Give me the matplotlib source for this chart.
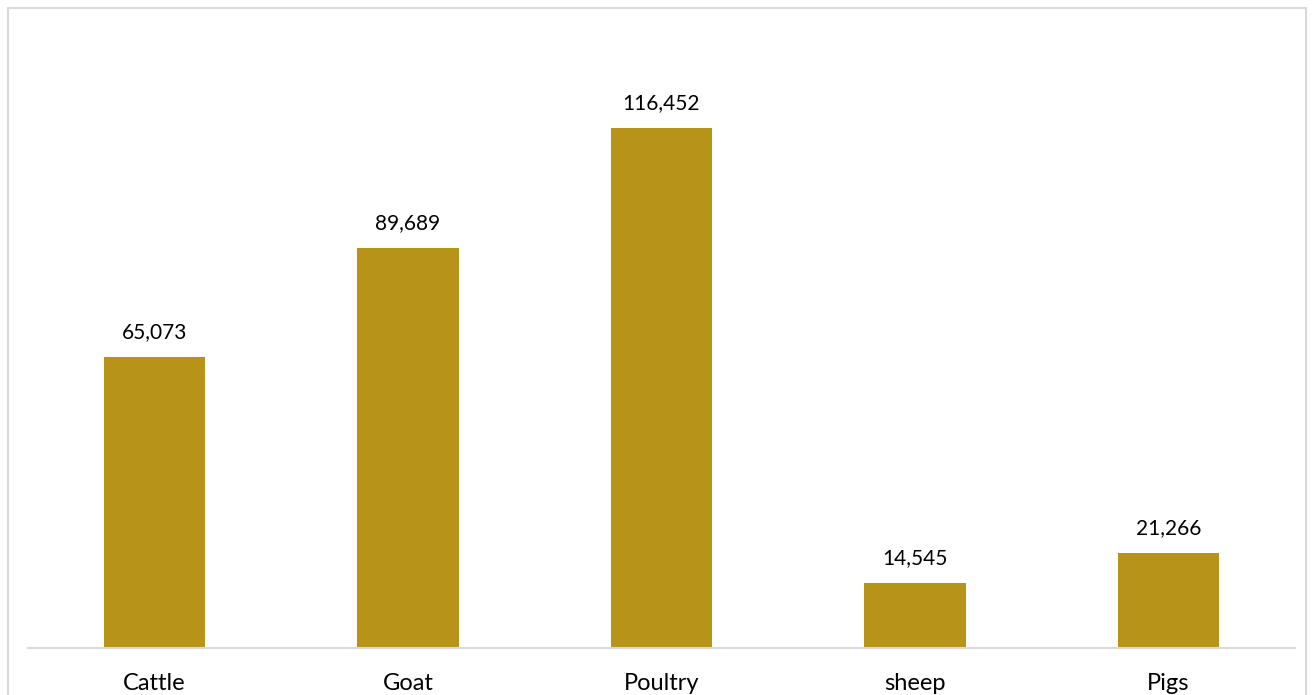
import matplotlib.pyplot as plt
from matplotlib.patches import Rectangle

categories = ['Cattle', 'Goat', 'Poultry', 'sheep', 'Pigs']
values = [65073, 89689, 116452, 14545, 21266]

W, H = 1312, 695
fig = plt.figure(figsize=(W / 100, H / 100), dpi=100)
plt.rcParams['font.family'] = ['Lato', 'DejaVu Sans']

# рамка вокруг области графика
fig.patches.append(Rectangle((8 / W, -0.05), 1298 / W, 1 - 8 / H + 0.05,
                             transform=fig.transFigure, fill=False,
                             edgecolor='#D9D9D9', linewidth=1.5))

ax = fig.add_axes([27.75 / W, 47 / H, 1267.5 / W, 625 / H])
x = range(len(categories))
bars = ax.bar(x, values, width=0.4, color='#B79417')
ax.set_xlim(-0.5, len(categories) - 0.5)
ax.set_ylim(0, 140000)

for b, v in zip(bars, values):
    ax.annotate(f'{v:,}', (b.get_x() + b.get_width() / 2, v),
                xytext=(0, 18), textcoords='offset points',
                ha='center', va='center', fontsize=15, color='#000000')

ax.set_xticks(list(x))
ax.set_xticklabels(categories, fontsize=17)
ax.tick_params(axis='x', length=0, pad=18)
ax.set_yticks([])
for s in ['top', 'right', 'left']:
    ax.spines[s].set_visible(False)
ax.spines['bottom'].set_color('#D9D9D9')
ax.spines['bottom'].set_linewidth(1.5)

fig.savefig('out.png', dpi=100)
